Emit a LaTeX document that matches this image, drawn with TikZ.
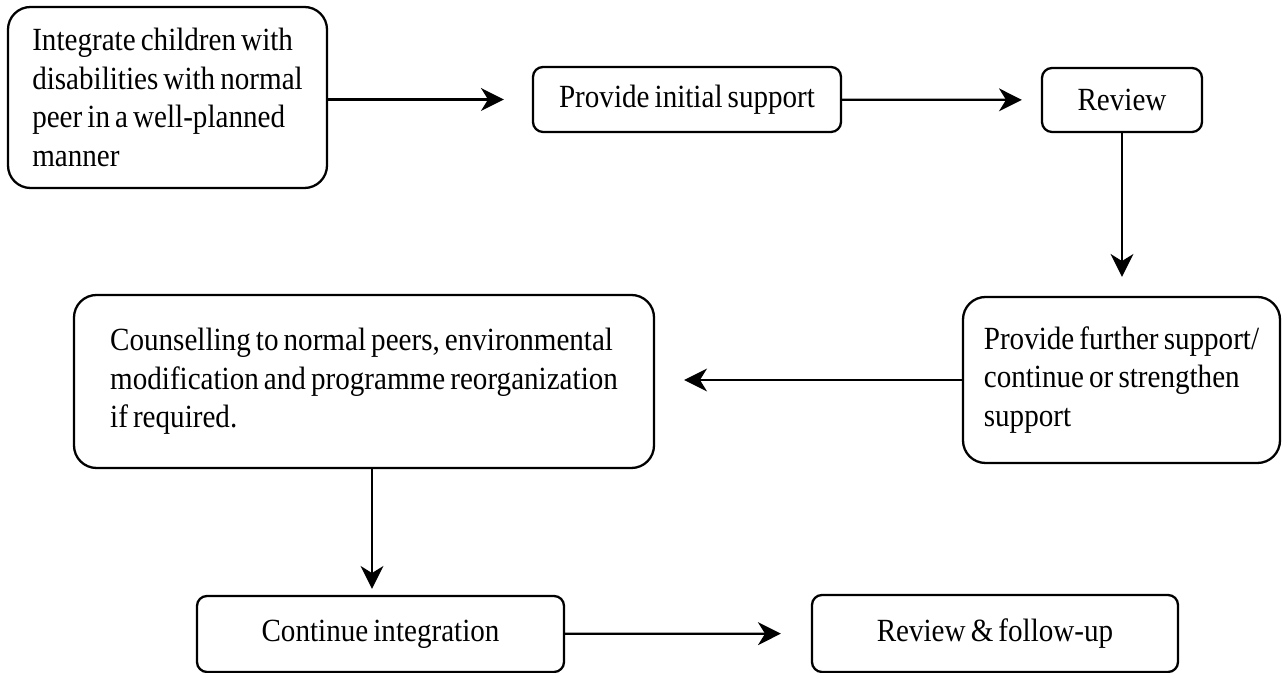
\documentclass[tikz,border=0pt]{standalone}
\usepackage{fontspec}
\setmainfont{Liberation Serif}[FakeStretch=0.9, WordSpace=0.7]
\usetikzlibrary{arrows.meta}
\tikzset{
  box/.style={draw, fill=white, line width=1.3pt, rounded corners=0.2cm, align=left,
    inner sep=0pt, font=\fontsize{18.4}{22}\selectfont},
  bigbox/.style={box, rounded corners=0.45cm},
  arr/.style={-{Stealth[length=13pt,width=13pt,inset=4pt]}, line width=1.3pt}
}

\begin{document}
\begin{tikzpicture}
\useasboundingbox (0, 0) rectangle (25.68, 13.46);
\node[bigbox, minimum width=6.38cm, minimum height=3.62cm] at (3.35, 11.51) (integrate)
  {Integrate children with\\disabilities with normal\\peer in a well-planned\\manner};
\node[box, minimum width=6.16cm, minimum height=1.30cm] at (13.74, 11.47) (initial) {Provide initial support};
\node[box, minimum width=3.2cm, minimum height=1.28cm] at (22.44, 11.46) (review) {Review};
\node[bigbox, minimum width=6.34cm, minimum height=3.32cm] at (22.43, 5.86) (further)
  {Provide further support/\\continue or strengthen\\support};
\node[bigbox, minimum width=11.6cm, minimum height=3.46cm] at (7.28, 5.83) (counsel)
  {Counselling to normal peers, environmental\\modification and programme reorganization\\if required.};
\node[box, minimum width=7.34cm, minimum height=1.52cm] at (7.61, 0.78) (continue) {Continue integration};
\node[box, minimum width=7.32cm, minimum height=1.54cm] at (19.9, 0.79) (followup) {Review \& follow-up};
% connectors
\draw[arr, shorten >=0.56cm] (integrate.east |- initial.west) -- (initial.west);
\draw[arr, shorten >=0.38cm] (initial) -- (review);
\draw[arr, shorten >=0.38cm] (review) -- (review |- further.north);
\draw[arr, shorten >=0.58cm] (further.west) -- (counsel.east |- further.west);
\draw[arr, shorten >=0.12cm] ([xshift=0.16cm]counsel.south) -- ([xshift=0.16cm]counsel.south |- continue.north);
\draw[arr, shorten >=0.6cm] (continue) -- (followup);
\end{tikzpicture}
\end{document}
